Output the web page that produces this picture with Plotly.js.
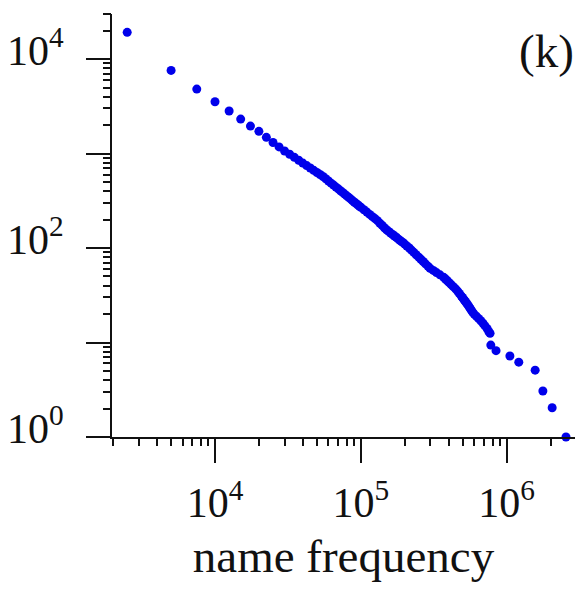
<!DOCTYPE html>
<html>
<head>
<meta charset="utf-8">
<script src="https://cdn.plot.ly/plotly-3.0.1.min.js"></script>
<style>
  html, body { margin: 0; padding: 0; background: #fff; }
  #chart { width: 575px; height: 601px; }
</style>
</head>
<body>
<div id="chart"></div>
<script>
// name frequency (x) and number of names (y)
const nameFrequency = [
  2500, 5000, 7500, 10000, 12500, 15000, 17500, 20000, 22500, 25000,
  27500, 30000, 32500, 35000, 37500, 40000, 42500, 45000, 47500, 50000,
  52500, 55000, 57500, 60000, 62500, 65000, 67500, 70000, 72500, 75000,
  77500, 80000, 82500, 85000, 87500, 90000, 92500, 95000, 97500, 100000,
  105000, 110000, 115000, 120000, 125000, 130000, 135000, 140000, 145000, 150000,
  155000, 160000, 165000, 170000, 175000, 180000, 185000, 190000, 195000, 200000,
  206800, 215100, 222300, 230500, 239500, 249500, 257900, 267500, 277400, 289000,
  298300, 313800, 330000, 348700, 369800, 380400, 391500, 403300, 416300, 430300,
  446200, 460500, 473800, 489000, 496800, 504700, 513500, 522500, 532500, 541900,
  551400, 561100, 571800, 583600, 598500, 618700, 640600, 664500, 687800, 710100,
  735200, 755000, 769000, 778000, 845000, 1052000, 1210000, 1567000, 1770000, 2050000,
  2550000
];
const nameCount = [
  19170, 7590, 4815, 3535, 2818, 2317, 1954, 1718, 1484, 1311,
  1175, 1065, 983, 912, 849, 793, 746, 704, 664, 631,
  600, 571, 541, 513, 486, 464, 442, 423, 404, 388,
  372, 357, 344, 331, 318, 307, 297, 287, 278, 270,
  254, 240, 227, 215, 205, 195, 183, 174, 164, 156,
  150, 144, 139, 134, 130, 125, 121, 117, 114, 110,
  105, 100, 95, 90, 85, 80, 76, 72, 68, 64,
  61, 58, 55, 52, 49, 47, 45, 43, 41, 39,
  37, 35, 33, 31, 30, 29, 28, 27, 26, 25,
  24, 23, 22, 21, 20, 19, 18, 17, 16, 15,
  14, 13, 12.5, 9.4, 8.2, 7.2, 6.2, 5.1, 3.07, 2.04,
  1
];

const xTickVals = [1000, 10000, 100000, 1000000];
const xTickText = [" ", "10<sup>4</sup>", "10<sup>5</sup>", "10<sup>6</sup>"];
const yTickVals = [1, 10, 100, 1000, 10000];
const yTickText = ["10<sup>0</sup>", " ", "10<sup>2</sup>", " ", "10<sup>4</sup>"];

const serif = "Liberation Serif, Times New Roman, serif";
const ink = "#111111";
const xRange = [3.2938, 6.4683];
const yRange = [0, 4.4771];

const trace = {
  x: nameFrequency,
  y: nameCount,
  xaxis: "x",
  yaxis: "y",
  type: "scatter",
  mode: "markers",
  marker: { color: "rgb(0,0,235)", size: 9, line: { width: 0 } },
  hoverinfo: "skip",
  cliponaxis: false
};

// empty trace that only registers the overlaid minor-tick axes
const minorTickHolder = {
  x: [],
  y: [],
  xaxis: "x2",
  yaxis: "y2",
  type: "scatter",
  mode: "markers",
  hoverinfo: "skip",
  showlegend: false
};

// major ticks (decades, long) with labels
const majorAxis = {
  type: "log",
  showgrid: false,
  zeroline: false,
  showline: true,
  linecolor: ink,
  linewidth: 2,
  ticks: "outside",
  ticklen: 24,
  tickwidth: 2,
  tickcolor: ink,
  tickmode: "array",
  tickfont: { family: serif, size: 42, color: ink }
};

// minor ticks (2..9 per decade, short), no labels
const minorAxis = {
  type: "log",
  showgrid: false,
  zeroline: false,
  showline: false,
  ticks: "outside",
  ticklen: 8,
  tickwidth: 2,
  tickcolor: ink,
  tickmode: "linear",
  tick0: 0,
  dtick: "D1",
  showticklabels: false
};

const layout = {
  width: 575,
  height: 601,
  margin: { l: 112, r: 0, t: 14, b: 164, pad: 0 },
  paper_bgcolor: "#ffffff",
  plot_bgcolor: "rgba(0,0,0,0)",
  showlegend: false,
  xaxis: Object.assign({}, majorAxis, {
    range: xRange,
    tickvals: xTickVals,
    ticktext: xTickText,
    ticklabelstandoff: 4,
    title: { text: "name frequency", font: { family: serif, size: 47, color: ink }, standoff: 14 }
  }),
  yaxis: Object.assign({}, majorAxis, {
    range: yRange,
    tickvals: yTickVals,
    ticktext: yTickText,
    ticklabelstandoff: 14,
    ticklabelshift: -9
  }),
  xaxis2: Object.assign({}, minorAxis, { range: xRange, overlaying: "x", anchor: "y2", side: "bottom" }),
  yaxis2: Object.assign({}, minorAxis, { range: yRange, overlaying: "y", anchor: "x2", side: "left" }),
  annotations: [{
    text: "(k)",
    xref: "paper", yref: "paper",
    x: 0.8747, y: 0.912,
    xanchor: "left", yanchor: "middle",
    showarrow: false,
    font: { family: serif, size: 47, color: ink }
  }]
};

Plotly.newPlot("chart", [minorTickHolder, trace], layout, { staticPlot: true, displayModeBar: false });
</script>
</body>
</html>
